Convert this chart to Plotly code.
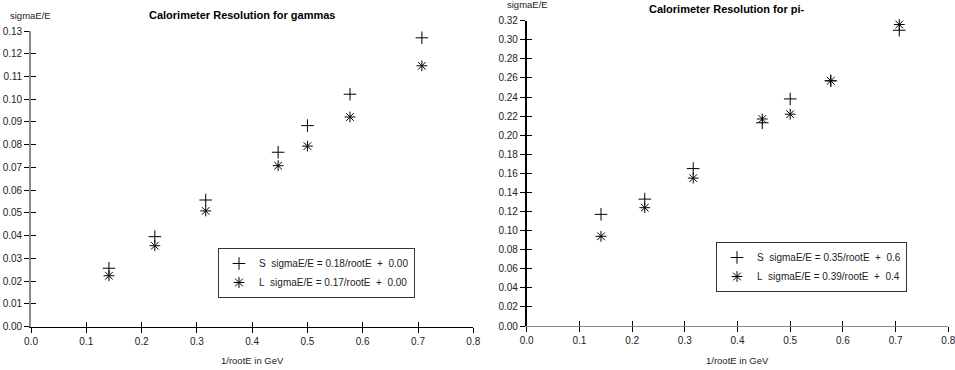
import plotly.graph_objects as go

# 1/sqrt(E) values (E = 50, 20, 10, 5, 4, 3, 2 GeV)
inv_root_e = [0.141, 0.224, 0.316, 0.447, 0.500, 0.577, 0.707]

# gammas
gam_S = [0.0257, 0.0396, 0.0557, 0.0767, 0.0884, 0.1022, 0.1270]
gam_L = [0.0224, 0.0356, 0.0509, 0.0708, 0.0794, 0.0922, 0.1147]

# pi-
pi_S = [0.117, 0.133, 0.165, 0.213, 0.238, 0.257, 0.310]
pi_L = [0.094, 0.124, 0.155, 0.217, 0.222, 0.257, 0.316]

gam_legend = ["S\u00a0\u00a0sigmaE/E = 0.18/rootE  +  0.00",
              "L\u00a0\u00a0sigmaE/E = 0.17/rootE  +  0.00"]
pi_legend = ["S\u00a0\u00a0sigmaE/E = 0.35/rootE  +  0.6",
             "L\u00a0\u00a0sigmaE/E = 0.39/rootE  +  0.4"]

FONT = "Liberation Sans, Arial, sans-serif"
W, H = 955, 370

fig = go.Figure()

def add(x, y, name, sym, xa, ya, leg):
    fig.add_trace(go.Scatter(
        x=x, y=y, mode="markers", name=name.replace("  ", "\u00a0\u00a0"),
        marker=dict(symbol=sym, size=9, color="black",
                    line=dict(color="black", width=1)),
        xaxis=xa, yaxis=ya, legend=leg, cliponaxis=False))

add(inv_root_e, gam_S, gam_legend[0], "cross-thin-open", "x", "y", "legend")
add(inv_root_e, gam_L, gam_legend[1], "asterisk-open", "x", "y", "legend")
add(inv_root_e, pi_S, pi_legend[0], "cross-thin-open", "x2", "y2", "legend2")
add(inv_root_e, pi_L, pi_legend[1], "asterisk-open", "x2", "y2", "legend2")

# pixel -> paper helpers
def px(v):
    return v / W
def py(v):
    return (H - v) / H

L_dom_x = [px(31), px(473.3)]
L_dom_y = [py(326.7), py(31)]
R_dom_x = [px(526.7), px(948.3)]
R_dom_y = [py(326), py(20.7)]

tickfont = dict(family=FONT, size=10, color="#222")

def xaxis(dom, anchor, linecolor, ticks="outside", overlay=None):
    d = dict(domain=dom, range=[0, 0.8], dtick=0.1, tick0=0, tickformat=".1f",
             showgrid=False, zeroline=False, showline=True, linecolor=linecolor,
             linewidth=1.3, ticks=ticks, ticklen=5, tickcolor="black",
             tickwidth=1, tickfont=tickfont, anchor=anchor, fixedrange=True,
             automargin=False, ticklabeloverflow="allow")
    if overlay:
        d.update(overlaying=overlay, showticklabels=False, showline=False)
    return d

def yaxis(dom, anchor, rng, dt, linecolor, ticks="outside", overlay=None):
    d = dict(domain=dom, range=rng, dtick=dt, tick0=0, tickformat=".2f",
             showgrid=False, zeroline=False, showline=True, linecolor=linecolor,
             linewidth=1.6, ticks=ticks, ticklen=5, tickcolor="black",
             tickwidth=1, tickfont=tickfont, anchor=anchor, fixedrange=True,
             automargin=False, ticklabeloverflow="allow")
    if overlay:
        d.update(overlaying=overlay, showticklabels=False, showline=False)
    return d

fig.update_layout(
    width=W, height=H,
    margin=dict(l=0, r=0, t=0, b=0, autoexpand=False),
    paper_bgcolor="white", plot_bgcolor="white",
    font=dict(family=FONT, size=10, color="#222"),
    xaxis=xaxis(L_dom_x, "y", "black"),
    yaxis=yaxis(L_dom_y, "x", [0, 0.13], 0.01, "#8a8a8a"),
    xaxis2=xaxis(R_dom_x, "y2", "#8a8a8a"),
    yaxis2=yaxis(R_dom_y, "x2", [0, 0.32], 0.02, "black"),
    # overlay axes for the inner half of the crossing ticks
    xaxis3=xaxis(L_dom_x, "y", "black", ticks="inside", overlay="x"),
    yaxis3=yaxis(L_dom_y, "x", [0, 0.13], 0.01, "#8a8a8a", ticks="inside", overlay="y"),
    xaxis4=xaxis(R_dom_x, "y2", "#8a8a8a", ticks="inside", overlay="x2"),
    yaxis4=yaxis(R_dom_y, "x2", [0, 0.32], 0.02, "black", ticks="inside", overlay="y2"),
    legend=dict(x=px(218), y=py(248), xanchor="left", yanchor="top",
                bordercolor="#333", borderwidth=1, bgcolor="white",
                font=dict(family=FONT, size=10, color="#222"), itemwidth=30,
                tracegroupgap=0),
    legend2=dict(x=px(716), y=py(242), xanchor="left", yanchor="top",
                 bordercolor="#333", borderwidth=1, bgcolor="white",
                 font=dict(family=FONT, size=10, color="#222"), itemwidth=30,
                 tracegroupgap=0),
    showlegend=True,
)

# empty traces to activate the overlay axes (no visible marks)
for xa, ya in [("x3", "y3"), ("x4", "y4")]:
    fig.add_trace(go.Scatter(x=[None], y=[None], xaxis=xa, yaxis=ya,
                             showlegend=False, hoverinfo="skip"))

def note(text, x, y, size, anchor="center", color="#222"):
    return dict(text=text, x=px(x), y=py(y), xanchor=anchor, yanchor="middle",
                xref="paper", yref="paper", showarrow=False,
                font=dict(family=FONT, size=size, color=color))

ann = [
    note("<b>Calorimeter Resolution for gammas</b>", 242, 15, 11, color="black"),
    note("<b>Calorimeter Resolution for pi-</b>", 727, 9, 11, color="black"),
    note("sigmaE/E", 8, 15, 9.5, anchor="left"),
    note("sigmaE/E", 505, 4, 9.5, anchor="left"),
    note("1/rootE in GeV", 252, 360, 9.5),
    note("1/rootE in GeV", 737, 360, 9.5),
]
fig.update_layout(annotations=ann)

fig.write_html("out.html", config={"displayModeBar": False},
               post_script="document.body.style.margin='0';document.body.style.overflow='hidden';")
